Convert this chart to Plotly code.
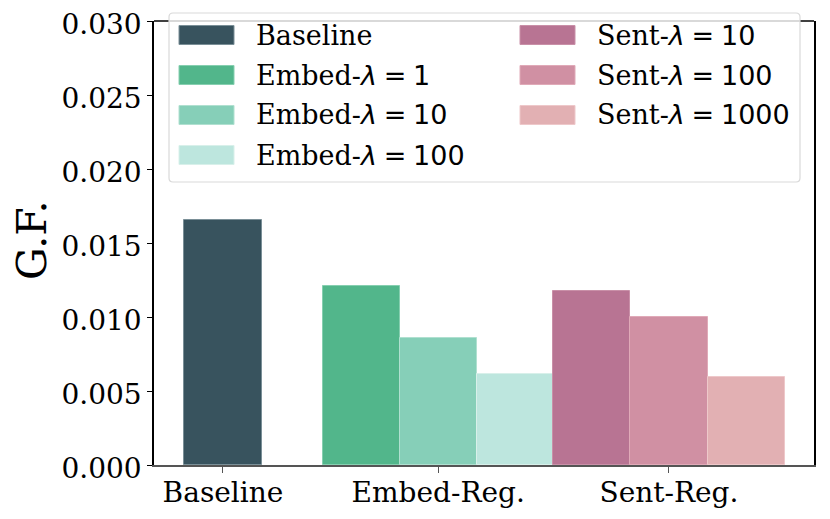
import plotly.graph_objects as go

# ---- data ----
categories = ["Baseline", "Embed-Reg.", "Sent-Reg."]
series_names = ["Baseline", "Embed-λ=1", "Embed-λ=10", "Embed-λ=100",
                "Sent-λ=10", "Sent-λ=100", "Sent-λ=1000"]
series_group = [0, 1, 1, 1, 2, 2, 2]
series_values = [0.01656, 0.01209, 0.00858, 0.00617, 0.01177, 0.00997, 0.00596]
legend_prefix = ["Baseline", "Embed-", "Embed-", "Embed-", "Sent-", "Sent-", "Sent-"]
legend_lambda = [None, "1", "10", "100", "10", "100", "1000"]
yticks = [0.0, 0.005, 0.010, 0.015, 0.020, 0.025, 0.030]

# ---- style ----
colors = ["#38535e", "#52b68b", "#86cfb8", "#bde6de", "#b87493", "#d090a3", "#e2b0b3"]
edge = ["#7a8f97", "#86cfb0", "#b0e0d0", "#d8f0ea", "#c990a8", "#e0aab8", "#eec8ca"]
group_centers = [0.0, 2.79, 5.78]
slot = [0, -1, 0, 1, -1, 0, 1]
SERIF = "DejaVu Serif"
SANS = "DejaVu Sans"
SP = "\u2005"

OFF = 8  # page body margin in the browser
W, H = 830, 519
PL, PR, PT, PB = 154, 814, 21, 465   # target plot box in window pixels
L, T = PL - OFF, PT - OFF
PW, PH = PR - PL, PB - PT
R = W - L - PW
B = H - T - PH

fig = go.Figure()
for i, name in enumerate(series_names):
    xpos = group_centers[series_group[i]] + slot[i]
    fig.add_trace(go.Bar(
        x=[xpos], y=[series_values[i]], width=1.0, name=name,
        marker=dict(color=colors[i], line=dict(color=edge[i], width=1)),
        showlegend=False,
    ))

fig.update_layout(
    width=W, height=H,
    margin=dict(l=L, r=R, t=T, b=B, pad=0, autoexpand=False),
    plot_bgcolor="white", paper_bgcolor="white",
    font=dict(family=SERIF, size=27, color="black"),
    bargap=0,
    xaxis=dict(
        range=[-0.894, 7.66], tickmode="array", tickvals=group_centers,
        ticktext=categories, ticks="outside", ticklen=6, tickcolor="#555555",
        showline=True, linecolor="#555555", linewidth=1.5, mirror=False,
        showgrid=False, zeroline=False, automargin=False,
        ticklabeloverflow="allow", ticklabelstandoff=-4,
        tickfont=dict(size=28, family=SERIF),
    ),
    yaxis=dict(
        range=[0, 0.030], tickmode="array", tickvals=yticks,
        ticktext=[f"{v:.3f}" for v in yticks], ticks="outside", ticklen=5,
        tickcolor="black", showline=True, linecolor="black", linewidth=1.5,
        mirror=True, showgrid=False, zeroline=False, automargin=False,
        ticklabeloverflow="allow", ticklabelshift=3,
        tickfont=dict(size=28, family=SERIF),
    ),
)

# top spine
fig.add_shape(type="line", xref="paper", yref="paper", x0=0, x1=1, y0=1, y1=1,
              line=dict(color="black", width=1.5))

def px_x(px):
    return (px - PL) / PW

def px_y(py):
    return (PB - py) / PH

# y-axis title
fig.add_annotation(xref="paper", yref="paper", x=px_x(32), y=px_y(241),
                   text="G.F.", showarrow=False, textangle=-90,
                   xanchor="center", yanchor="middle",
                   font=dict(size=41, family=SERIF, color="black"))

# legend frame (rounded)
x0, x1, y0, y1 = px_x(169), px_x(800), px_y(182), px_y(13)
rx, ry = 4 / PW, 4 / PH
path = (f"M {x0+rx},{y0} L {x1-rx},{y0} Q {x1},{y0} {x1},{y0+ry} "
        f"L {x1},{y1-ry} Q {x1},{y1} {x1-rx},{y1} L {x0+rx},{y1} "
        f"Q {x0},{y1} {x0},{y1-ry} L {x0},{y0+ry} Q {x0},{y0} {x0+rx},{y0} Z")
fig.add_shape(type="path", path=path, xref="paper", yref="paper",
              fillcolor="rgba(255,255,255,0.8)", line=dict(color="#d9d9d9", width=1.2))

col_patch_x = [179, 520]
col_text_x = [254, 595]
row_y = [35, 75, 115, 155]
positions = [(0, 0), (0, 1), (0, 2), (0, 3), (1, 0), (1, 1), (1, 2)]
for i, (c, r) in enumerate(positions):
    cy = row_y[r]
    fig.add_shape(type="rect", xref="paper", yref="paper",
                  x0=px_x(col_patch_x[c]), x1=px_x(col_patch_x[c] + 55),
                  y0=px_y(cy + 9.5), y1=px_y(cy - 9.5),
                  fillcolor=colors[i], line=dict(color=edge[i], width=1))
    if legend_lambda[i] is None:
        txt = legend_prefix[i]
    else:
        txt = (f"{legend_prefix[i]}<span style=\"font-family:{SANS}\">"
               f"<i>λ</i>{SP}={SP}{legend_lambda[i]}</span>")
    fig.add_annotation(xref="paper", yref="paper", x=px_x(col_text_x[c]), y=px_y(cy),
                       text=txt, showarrow=False, xanchor="left", yanchor="middle",
                       font=dict(size=27, family=SERIF, color="black"))

fig.write_html("out.html")
